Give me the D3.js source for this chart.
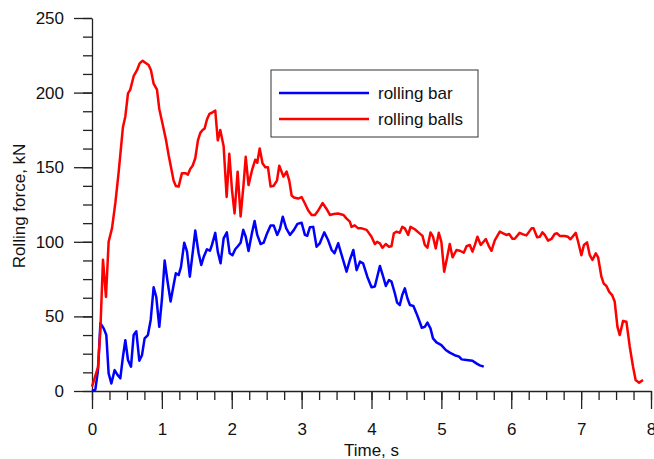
<!DOCTYPE html>
<html>
<head>
<meta charset="utf-8">
<script src="https://cdn.jsdelivr.net/npm/d3@7"></script>
<style>
  body { margin: 0; background: #fff; }
  text { font-family: "Liberation Sans", Arial, sans-serif; fill: #111; }
</style>
</head>
<body>
<div id="app"></div>
<script>
// rolling bar (blue)
const barTime = [0, 0.048, 0.086, 0.12, 0.167, 0.205, 0.238, 0.277, 0.324, 0.367, 0.405, 0.443, 0.477, 0.515, 0.558, 0.596, 0.634, 0.677, 0.715, 0.753, 0.8, 0.84, 0.882, 0.92, 0.963, 1.0, 1.04, 1.078, 1.125, 1.168, 1.2, 1.24, 1.273, 1.32, 1.36, 1.4, 1.44, 1.478, 1.526, 1.564, 1.6, 1.645, 1.688, 1.717, 1.764, 1.8, 1.84, 1.884, 1.93, 1.97, 2.01, 2.05, 2.09, 2.127, 2.165, 2.2, 2.24, 2.29, 2.327, 2.365, 2.413, 2.456, 2.5, 2.556, 2.6, 2.65, 2.69, 2.73, 2.78, 2.833, 2.89, 2.94, 3.0, 3.047, 3.08, 3.118, 3.166, 3.214, 3.26, 3.324, 3.38, 3.43, 3.47, 3.524, 3.586, 3.643, 3.69, 3.74, 3.787, 3.835, 3.88, 3.94, 4.0, 4.048, 4.12, 4.167, 4.205, 4.25, 4.286, 4.334, 4.367, 4.405, 4.44, 4.477, 4.515, 4.55, 4.6, 4.644, 4.68, 4.72, 4.763, 4.8, 4.844, 4.88, 4.93, 5.0, 5.063, 5.12, 5.19, 5.254, 5.29, 5.36, 5.445, 5.5, 5.55, 5.607];
const barForce = [0, 1, 14, 45.4, 42, 37.5, 11.8, 5, 14, 10.7, 8.5, 23, 34, 20.8, 16.3, 37.5, 40, 20.3, 24, 35.3, 37.5, 47.6, 69.5, 63, 43, 61, 87.4, 74.4, 60, 71, 78.9, 77.7, 83, 99.4, 93.4, 76.6, 92.3, 107.5, 92.3, 84.5, 90, 95, 94, 97.9, 106, 93.4, 85.6, 102.3, 106.3, 92.3, 91, 95, 97.2, 99.4, 108, 103.4, 93.8, 106, 114, 104.6, 98.5, 99.4, 105, 111, 111, 104.6, 108.8, 116.8, 109, 104.6, 108, 112, 112.8, 104.6, 104, 109.7, 110, 96.7, 99, 106.3, 101, 94.5, 92.3, 99, 89, 80, 87.8, 94.5, 81, 86.7, 85.6, 76.6, 69.5, 70, 83.8, 76.6, 70.4, 74.4, 73.3, 65.5, 59.2, 57.6, 64.3, 68.8, 62, 57.6, 57, 52, 47.6, 42.4, 43, 45.8, 42, 35.3, 32.6, 30.8, 27.5, 25.7, 24, 23, 21.2, 20.8, 20.3, 18.5, 17.2, 16.3];

// rolling balls (red)
const ballsTime = [0, 0.086, 0.12, 0.157, 0.2, 0.238, 0.286, 0.334, 0.38, 0.443, 0.477, 0.515, 0.548, 0.596, 0.644, 0.682, 0.725, 0.763, 0.81, 0.844, 0.882, 0.93, 0.963, 1.01, 1.06, 1.097, 1.135, 1.168, 1.2, 1.24, 1.287, 1.335, 1.373, 1.407, 1.44, 1.478, 1.516, 1.55, 1.583, 1.612, 1.645, 1.68, 1.717, 1.764, 1.8, 1.836, 1.884, 1.927, 1.965, 2.003, 2.04, 2.084, 2.127, 2.17, 2.2, 2.24, 2.29, 2.337, 2.365, 2.4, 2.44, 2.48, 2.518, 2.556, 2.6, 2.647, 2.68, 2.74, 2.785, 2.823, 2.857, 2.89, 2.95, 3.0, 3.047, 3.095, 3.143, 3.19, 3.238, 3.3, 3.357, 3.405, 3.46, 3.52, 3.6, 3.64, 3.69, 3.714, 3.76, 3.81, 3.86, 3.93, 4.0, 4.048, 4.08, 4.12, 4.157, 4.205, 4.25, 4.286, 4.32, 4.36, 4.405, 4.44, 4.477, 4.525, 4.558, 4.62, 4.68, 4.73, 4.763, 4.8, 4.844, 4.88, 4.92, 4.963, 5.0, 5.04, 5.08, 5.12, 5.16, 5.216, 5.264, 5.32, 5.36, 5.407, 5.445, 5.48, 5.516, 5.564, 5.636, 5.683, 5.717, 5.764, 5.836, 5.884, 5.93, 5.97, 6.017, 6.05, 6.12, 6.17, 6.217, 6.29, 6.32, 6.37, 6.41, 6.446, 6.48, 6.527, 6.575, 6.622, 6.656, 6.694, 6.766, 6.81, 6.847, 6.923, 6.957, 7.004, 7.04, 7.085, 7.124, 7.162, 7.21, 7.243, 7.29, 7.324, 7.362, 7.4, 7.443, 7.48, 7.52, 7.553, 7.6, 7.648, 7.696, 7.743, 7.78, 7.83, 7.886];
const ballsForce = [2.9, 16, 41, 88, 63, 100, 109, 126, 146, 177, 184, 199.5, 202, 211, 215, 219.6, 221.4, 220, 218.5, 215, 206, 202, 189, 179, 168, 158, 149, 141, 137.4, 137, 146, 146, 145, 149, 151, 156, 168, 173, 175, 176, 182, 185.7, 186.5, 188, 168, 175, 164, 130, 159, 135, 119, 147, 117, 139, 157, 138, 148, 155, 153, 162.6, 152.6, 150, 150, 137, 137.6, 141, 151, 143.7, 147, 141, 131, 129.7, 129, 130, 125.7, 121, 118, 118, 121, 126, 122, 118, 118.6, 119, 118, 115.7, 113.5, 110, 111, 109, 109, 108, 103.4, 98.5, 100, 99, 96, 98.5, 96.7, 97, 105.7, 106.8, 106, 110, 109, 104.6, 110, 108.4, 106, 104, 97.9, 96, 106.3, 103.4, 95.6, 106, 100, 80, 89, 98.5, 89.6, 94.5, 94, 92.7, 97, 97.9, 93.4, 97.9, 103.4, 97.9, 101.9, 96.7, 94, 101, 106.8, 105.7, 104.6, 105.2, 102, 102, 106, 105, 104.3, 109, 109, 103, 103.4, 106.3, 104.6, 100.8, 101.9, 105.2, 105.7, 103.9, 103.9, 103.4, 101.7, 106, 100, 91, 97.9, 99.6, 91, 87.8, 92.3, 89.6, 76.6, 72, 70.4, 66.6, 64.3, 60, 43, 37.5, 47, 46.5, 29.7, 16.3, 7.4, 5.6, 7.4];

const seriesNames = ["rolling bar", "rolling balls"];
const seriesColors = ["#0000ff", "#ff0000"];

const width = 654, height = 459;
const margin = { left: 92, right: 3, top: 18, bottom: 68 };

const svg = d3.select("#app").append("svg")
    .attr("width", width)
    .attr("height", height);

const x = d3.scaleLinear().domain([0, 8]).range([margin.left, width - margin.right]);
const y = d3.scaleLinear().domain([0, 250]).range([height - margin.bottom, margin.top]);

// 次刻度
const xMinor = d3.range(0, 8.001, 0.25);
const yMinor = d3.range(0, 250.001, 12.5);

svg.append("g")
    .attr("transform", `translate(0,${y(0)})`)
    .call(d3.axisBottom(x).tickValues(xMinor).tickSize(9).tickFormat(""))
    .call(g => g.select(".domain").remove());
svg.append("g")
    .attr("transform", `translate(${x(0)},0)`)
    .call(d3.axisLeft(y).tickValues(yMinor).tickSize(9).tickFormat(""))
    .call(g => g.select(".domain").remove());

// 主刻度
const xAxis = svg.append("g")
    .attr("transform", `translate(0,${y(0)})`)
    .call(d3.axisBottom(x).ticks(8).tickSize(18).tickSizeOuter(0).tickPadding(14));
const yAxis = svg.append("g")
    .attr("transform", `translate(${x(0)},0)`)
    .call(d3.axisLeft(y).ticks(5).tickSize(18).tickSizeOuter(0).tickPadding(10));

[xAxis, yAxis].forEach(g => {
    g.selectAll("text").style("font-size", "17px").attr("fill", "#111");
    g.select(".domain").attr("stroke", "#222").attr("stroke-width", 1.3);
});
svg.selectAll(".tick line").attr("stroke", "#222").attr("stroke-width", 1.3);

// 轴标题
svg.append("text")
    .attr("x", (x(0) + x(8)) / 2)
    .attr("y", 456)
    .attr("text-anchor", "middle")
    .style("font-size", "17px")
    .text("Time, s");

svg.append("text")
    .attr("transform", `translate(25,206) rotate(-90)`)
    .attr("text-anchor", "middle")
    .style("font-size", "17px")
    .text("Rolling force, kN");

// 曲线
const line = d3.line().x(d => x(d[0])).y(d => y(d[1]));
const series = [
    d3.zip(barTime, barForce),
    d3.zip(ballsTime, ballsForce)
];
svg.selectAll(".series")
    .data(series)
    .enter().append("path")
    .attr("class", "series")
    .attr("d", line)
    .attr("fill", "none")
    .attr("stroke", (d, i) => seriesColors[i])
    .attr("stroke-width", 2.5)
    .attr("stroke-linejoin", "round");

// 图例
const legend = svg.append("g").attr("transform", "translate(271,70)");
legend.append("rect")
    .attr("width", 207)
    .attr("height", 67)
    .attr("fill", "#fff")
    .attr("stroke", "#333")
    .attr("stroke-width", 1);
seriesNames.forEach((name, i) => {
    const ly = 23 + i * 26;
    legend.append("line")
        .attr("x1", 8).attr("x2", 98)
        .attr("y1", ly).attr("y2", ly)
        .attr("stroke", seriesColors[i])
        .attr("stroke-width", 2.5);
    legend.append("text")
        .attr("x", 107)
        .attr("y", ly)
        .attr("dy", "0.35em")
        .style("font-size", "17px")
        .text(name);
});
</script>
</body>
</html>
